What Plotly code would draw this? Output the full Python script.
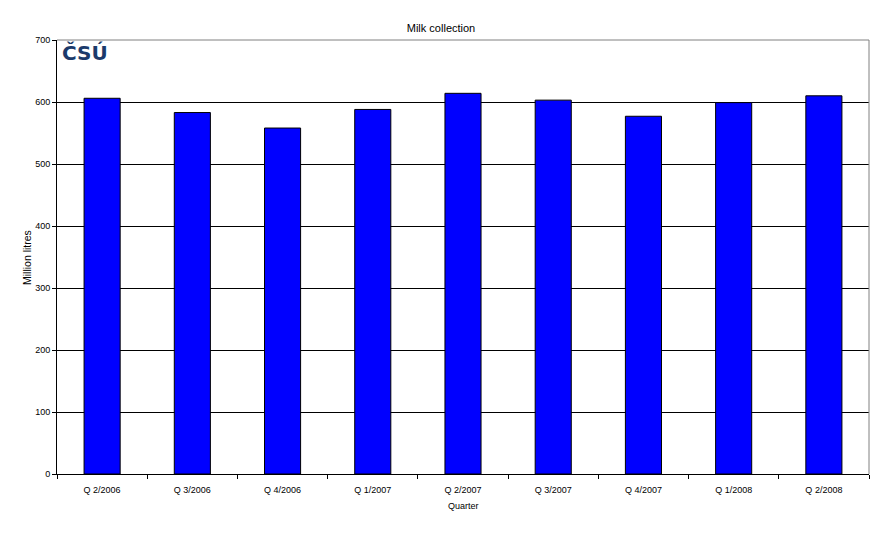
import plotly.graph_objects as go

quarters = ["Q 2/2006", "Q 3/2006", "Q 4/2006", "Q 1/2007", "Q 2/2007",
            "Q 3/2007", "Q 4/2007", "Q 1/2008", "Q 2/2008"]
milk = [606, 583, 558, 588, 614, 603, 577, 599, 610]

# page body has an 8px margin, so the figure is drawn 8px in from the window edge
OFF = 8
W, H = 882 - OFF, 556 - OFF
L, R, T, B = 57 - OFF, 13, 40 - OFF, 82
pw, ph = W - L - R, H - T - B
FONT = "Liberation Sans, Arial, sans-serif"

def px(x):  # page x -> paper x
    return (x - OFF - L) / pw

def py(y):  # page y -> paper y
    return (T + ph - (y - OFF)) / ph

fig = go.Figure(go.Bar(
    x=quarters, y=milk,
    marker=dict(color="#0000FF", line=dict(color="black", width=1)),
))

fig.update_layout(
    width=W, height=H,
    margin=dict(l=L, r=R, t=T, b=B),
    paper_bgcolor="white", plot_bgcolor="white",
    bargap=0.6, showlegend=False,
    font=dict(family=FONT, size=9, color="black"),
    title=dict(text="Milk collection", x=(441 - OFF) / W, xref="container", xanchor="center",
               y=1 - (28 - OFF) / H, yref="container", yanchor="middle",
               font=dict(family=FONT, size=11, color="black")),
)
fig.update_xaxes(
    type="category", showline=True, linecolor="black", linewidth=1,
    ticks="outside", tickson="boundaries", ticklen=4, tickcolor="black",
    showgrid=False, tickfont=dict(size=9), ticklabelstandoff=7,
)
fig.update_yaxes(
    range=[0, 700], dtick=100, showline=True, linecolor="black", linewidth=1,
    ticks="outside", ticklen=4, tickcolor="black",
    showgrid=True, gridcolor="black", gridwidth=1, zeroline=False,
    tickfont=dict(size=9),
)
fig.add_shape(type="line", xref="paper", yref="paper", x0=0, x1=1, y0=1, y1=1,
              line=dict(color="#808080", width=1))
fig.add_shape(type="line", xref="paper", yref="paper", x0=1, x1=1, y0=0, y1=1,
              line=dict(color="#808080", width=1))
fig.add_annotation(text="Million litres", xref="paper", yref="paper",
                   x=px(27), y=0.5, xanchor="center", yanchor="middle",
                   textangle=-90, showarrow=False, font=dict(size=10.5))
fig.add_annotation(text="Quarter", xref="paper", yref="paper",
                   x=0.5, y=py(506), xanchor="center", yanchor="middle",
                   showarrow=False, font=dict(size=9))
fig.add_annotation(text="<b>ČSÚ</b>", xref="paper", yref="paper",
                   x=px(60), y=py(53), xanchor="left", yanchor="middle",
                   showarrow=False,
                   font=dict(family="DejaVu Sans, sans-serif", size=20, color="#1B3A6B"))

fig.write_html("out.html")
